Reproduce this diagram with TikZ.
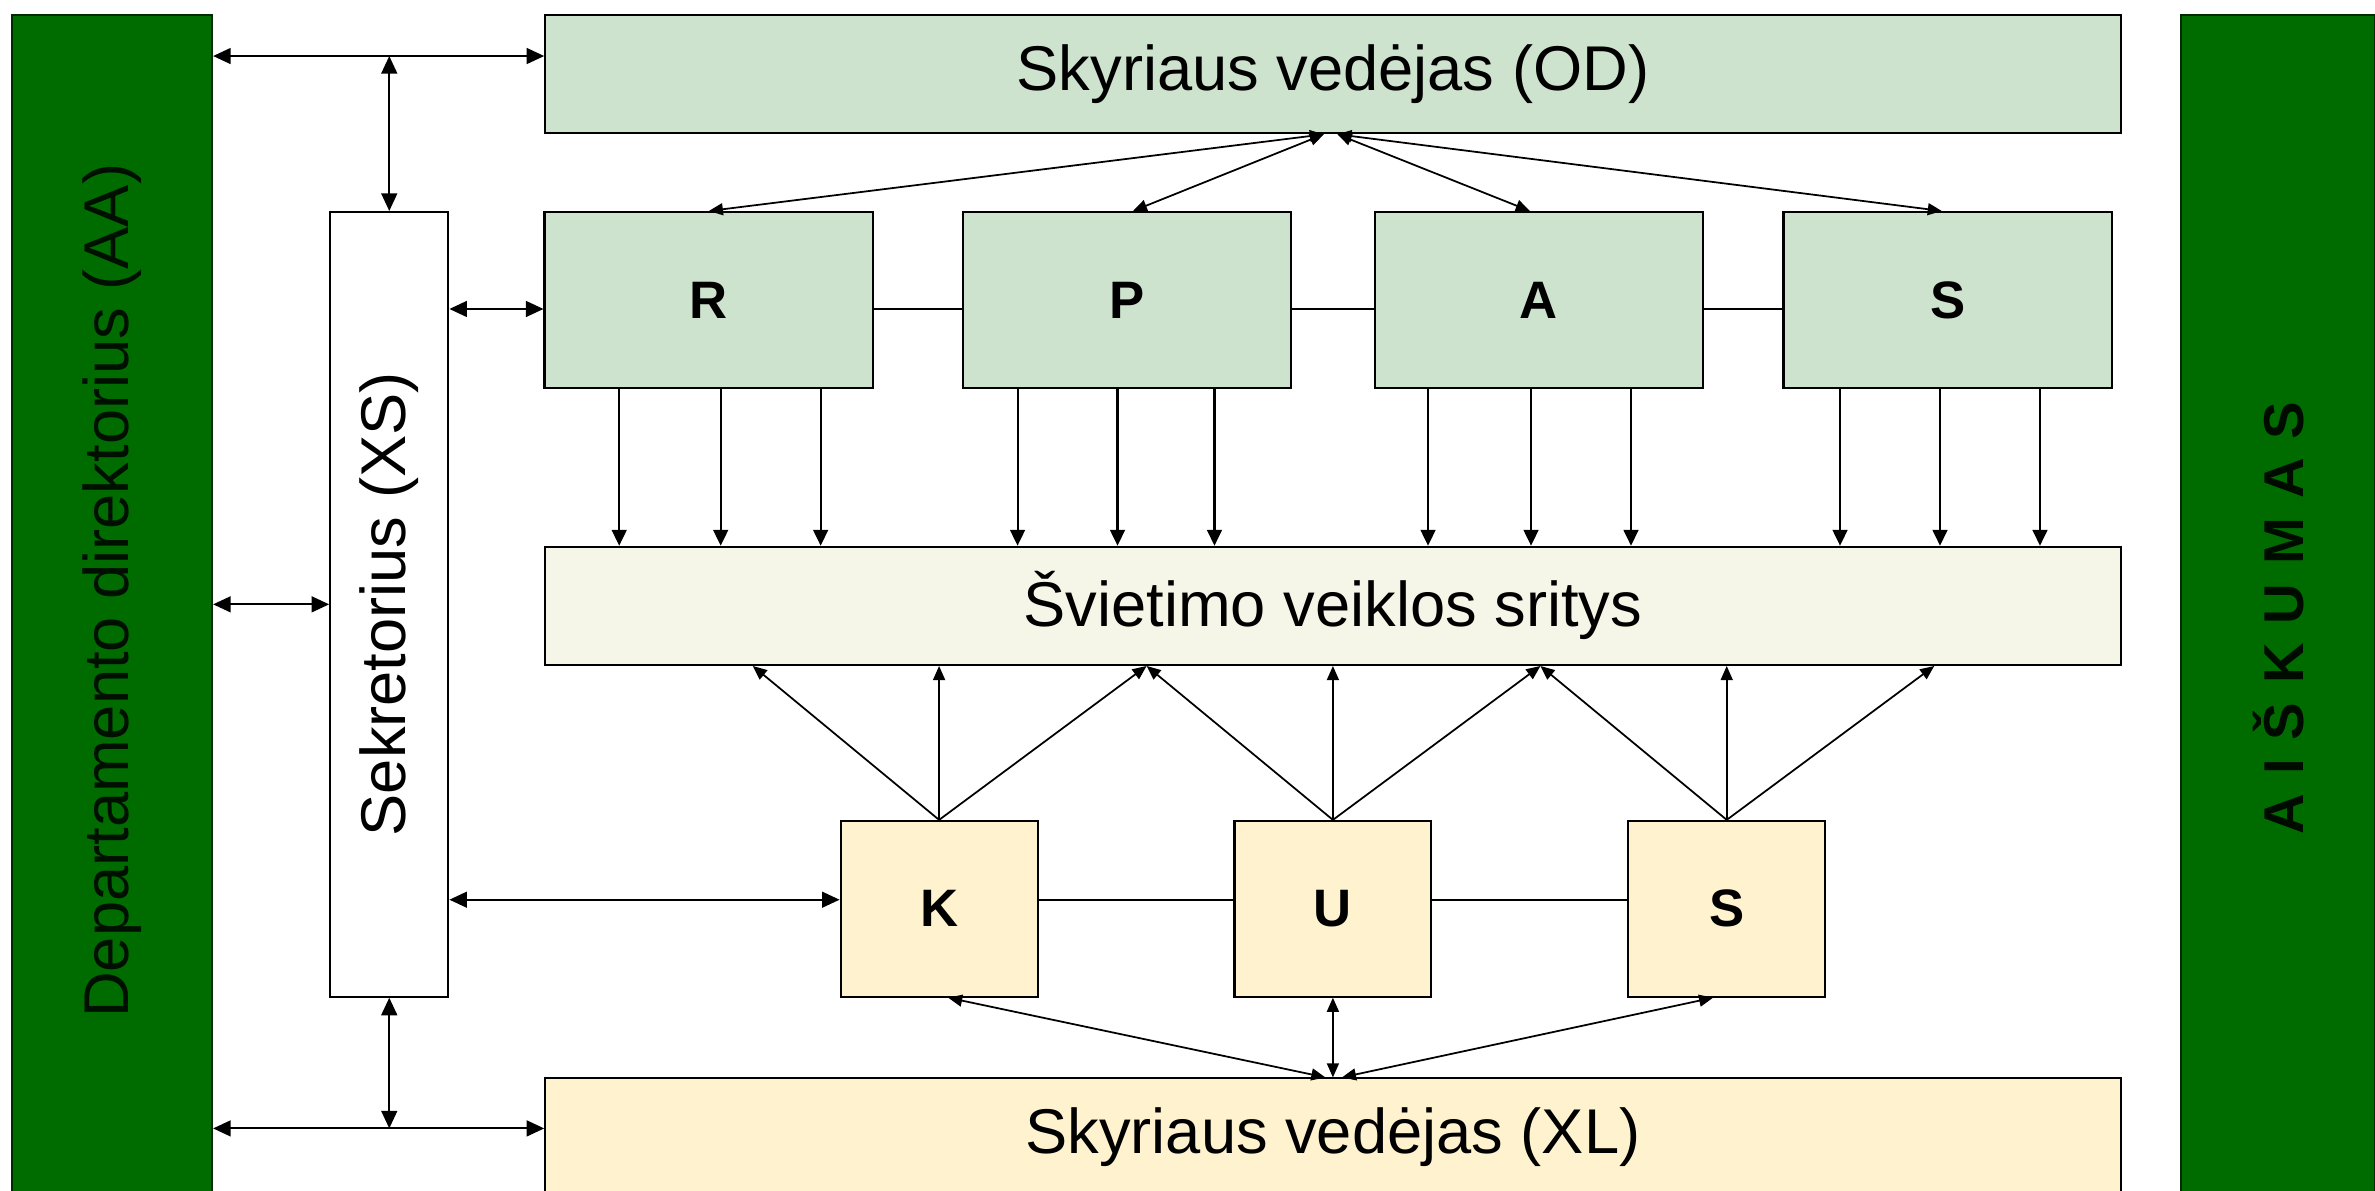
\documentclass[tikz,border=0pt]{standalone}
\usepackage{fontspec}
\setmainfont{Liberation Sans}
\usetikzlibrary{arrows.meta,calc}

\definecolor{darkgr}{RGB}{0,108,0}
\definecolor{lightgr}{HTML}{CDE3CD}
\definecolor{ivory}{HTML}{F6F6E8}
\definecolor{lightyel}{HTML}{FFF3CF}

\begin{document}
\def\pxu{0.01515cm}
\begin{tikzpicture}[x=\pxu, y=-\pxu,
  box/.style={draw, line width=0.6pt, inner sep=0pt, font=\fontsize{18}{21}\selectfont},
  bar/.style={box, fill=darkgr, draw=black!60!darkgr, minimum height=780*\pxu},
  wide/.style={box, minimum width=1040*\pxu, minimum height=78*\pxu},
  grp/.style={box, fill=lightgr, minimum width=217*\pxu, minimum height=116*\pxu, font=\fontsize{15}{17}\selectfont\bfseries},
  sub/.style={box, fill=lightyel, minimum width=130*\pxu, minimum height=116*\pxu, font=\fontsize{15}{17}\selectfont\bfseries},
  both/.style={line width=0.6pt, {Triangle[length=5pt,width=4.5pt]}-{Triangle[length=5pt,width=4.5pt]}},
  one/.style={line width=0.6pt, -{Triangle[length=4.5pt,width=4.2pt]}},
  thin/.style={line width=0.5pt, {Triangle[length=4pt,width=3.4pt]}-{Triangle[length=4pt,width=3.4pt]}},
  up/.style={line width=0.5pt, -{Triangle[length=4pt,width=3.4pt]}}]

 \useasboundingbox (0,0) rectangle (1568,786);
 \clip (0,0) rectangle (1568,786);

 %side bars
 \node[bar, minimum width=132*\pxu] (AA) at (74,400) {};
 \node[rotate=90, font=\fontsize{18}{21}\selectfont, text=black!85!darkgr] (AAtxt) at ([yshift=10*\pxu]AA.center) {Departamento direktorius (AA)};
 \node[bar, minimum width=128*\pxu] (AIS) at (1504,400) {};
 \node[rotate=90, font=\fontsize{16}{18}\selectfont\bfseries, text=black!90!darkgr] (AIStxt) at ([yshift=-8*\pxu]AIS.center) {\spaceskip=5.4pt A I Š K U M A S};

 %main boxes
 \node[wide, fill=lightgr] (OD) at (880,49) {Skyriaus vedėjas (OD)};
 \node[wide, fill=ivory] (SV) at (880,400) {Švietimo veiklos sritys};
 \node[wide, fill=lightyel] (XL) at (880,751) {Skyriaus vedėjas (XL)};
 \node[box, fill=white, minimum width=78*\pxu, minimum height=518*\pxu] (XS) at (257,399) {\rotatebox{90}{Sekretorius (XS)}};

 \foreach \name/\x in {R/468, P/744, A/1016, S/1286} {
   \node[grp] (T\name) at (\x,198) {\name};
 }
 \foreach \name/\x in {K/620, U/880, S/1140} {
   \node[sub] (B\name) at (\x,600) {\name};
 }

 %helper points
 \coordinate (top) at (257,37);
 \coordinate (bot) at (257,745);
 \coordinate (rline) at (0,204);
 \coordinate (kline) at (0,594);

 %arrows from the sides
 \draw[both] (AA.east |- top) -- (OD.west |- top);
 \draw[both] (top) -- (XS.north);
 \draw[both] (XS.east |- rline) -- (TR.west |- rline);
 \draw[both] (AA.east |- XS.west) -- (XS.west);
 \draw[both] (XS.east |- kline) -- (BK.west |- kline);
 \draw[both] (XS.south) -- (bot);
 \draw[both] (AA.east |- bot) -- (XL.west |- bot);

 %links in a row
 \foreach \a/\b in {TR/TP, TP/TA, TA/TS} {
   \draw[line width=0.6pt] (\a.east |- rline) -- (\b.west |- rline);
 }
 \foreach \a/\b in {BK/BU, BU/BS} {
   \draw[line width=0.6pt] (\a.east |- kline) -- (\b.west |- kline);
 }

 %OD to groups
 \coordinate (odl) at ([xshift=-6*\pxu]OD.south);
 \coordinate (odr) at ([xshift=3*\pxu]OD.south);
 \draw[thin] (odl) -- (TR.north);
 \draw[thin] (odl) -- ([xshift=4*\pxu]TP.north);
 \draw[thin] (odr) -- ([xshift=-6*\pxu]TA.north);
 \draw[thin] (odr) -- ([xshift=-4*\pxu]TS.north);

 %groups down to SV
 \foreach \b/\i/\j/\k in {TR/50/117/183, TP/37/103/167, TA/36/104/170, TS/38/104/170} {
   \foreach \o in {\i,\j,\k} {
     \path (\b.south west) ++(\o,0) coordinate (d);
     \draw[one] (d) -- (d |- SV.north);
   }
 }

 %K U S up to SV
 \foreach \n/\x in {1/497, 2/620, 3/757, 4/880, 5/1017, 6/1140, 7/1277} {
   \coordinate (s\n) at (\x,0 |- SV.south);
 }
 \foreach \b/\l/\m/\r in {BK/1/2/3, BU/3/4/5, BS/5/6/7} {
   \foreach \t in {\l,\m,\r} {
     \draw[up] (\b.north) -- (s\t);
   }
 }

 %K U S down to XL
 \draw[thin] ([xshift=6*\pxu]BK.south) -- ([xshift=-5*\pxu]XL.north);
 \draw[thin] (BU.south) -- (XL.north);
 \draw[thin] ([xshift=-9*\pxu]BS.south) -- ([xshift=6*\pxu]XL.north);

\end{tikzpicture}
\end{document}
